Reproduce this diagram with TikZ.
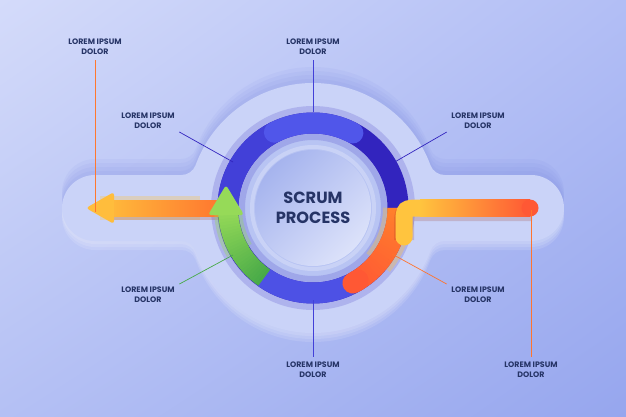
\documentclass[tikz,border=0pt]{standalone}
\usepackage{fontspec}
\usetikzlibrary{shadings}
\setmainfont{Poppins}
\definecolor{bgA}{RGB}{212,219,250}
\definecolor{bgB}{RGB}{178,190,245}
\definecolor{bgC}{RGB}{180,192,244}
\definecolor{bgD}{RGB}{150,166,238}
\definecolor{plateC}{RGB}{202,211,248}
\definecolor{shadeC}{RGB}{110,125,220}
\definecolor{discA}{RGB}{166,180,238}
\definecolor{discB}{RGB}{220,226,250}
\definecolor{ink}{RGB}{38,52,102}
\definecolor{indD}{RGB}{50,36,190}
\definecolor{indM}{RGB}{66,64,216}
\definecolor{indL}{RGB}{80,86,234}
\definecolor{redO}{RGB}{255,88,52}
\definecolor{oraO}{RGB}{255,128,44}
\definecolor{yelO}{RGB}{255,196,62}
\definecolor{grnA}{RGB}{72,170,72}
\definecolor{grnB}{RGB}{150,218,88}
\tikzset{
	lbl/.style={font=\bfseries\fontsize{7.9}{10}\selectfont,text=ink,align=center,inner sep=1pt},
	ttl/.style={font=\bfseries\fontsize{16.2}{19.5}\selectfont,text=ink,align=center},
	leader/.style={line width=0.7pt,shorten <=4pt},
	ringseg/.style={line width=21pt},
}
% outline of the pale plate, local to the circle centre
\newcommand{\plateoutline}{(-131.5,-33) -- (-218,-33) arc[start angle=270,end angle=90,radius=33]
	-- (-131.5,33) arc[start angle=270,end angle=339.94,radius=15]
	arc[start angle=159.94,end angle=20.06,radius=125]
	arc[start angle=200.06,end angle=270,radius=15] -- (218,33)
	arc[start angle=90,end angle=-90,radius=33] -- (131.5,-33)
	arc[start angle=90,end angle=159.94,radius=15]
	arc[start angle=-20.06,end angle=-159.94,radius=125]
	arc[start angle=20.06,end angle=90,radius=15] -- cycle}
\begin{document}
\begin{tikzpicture}[x=1pt,y=-1pt,>=stealth]
	\useasboundingbox (0,0) rectangle (626,417);
	\shade[upper left=bgA,upper right=bgB,lower left=bgC,lower right=bgD] (0,0) rectangle (626,417);
	\coordinate (C) at (313,208);
	% plate with soft shadow and glow
	\begin{scope}[shift={(C)}]
		\foreach \d in {4,8,12,16}
			\fill[shadeC,opacity=0.07,yshift=\d] \plateoutline;
		\foreach \d in {3,6,9}
			\fill[white,opacity=0.12,yshift=-\d] \plateoutline;
		\fill[plateC] \plateoutline;
	\end{scope}
	% inner disc
	\fill[discA!50!plateC] (C) circle (74);
	\draw[white,opacity=0.25,line width=4pt] (C) circle (61);
	\shade[top color=discA,bottom color=discB,shading angle=45] (C) circle (58);
	% ring
	\draw[indD,opacity=0.18,line width=34pt] (C) circle (85);
	\draw[ringseg,indD] (C) circle (85);
	\draw[ringseg,indM] (C) ++(178:85) arc[start angle=178,end angle=245,radius=85];
	\draw[ringseg,indL,line cap=round] (C) ++(243:85) arc[start angle=243,end angle=298,radius=85];
	\draw[ringseg,indL!90!indD,line cap=round] (C) ++(125:85) arc[start angle=125,end angle=66,radius=85];
	% orange arc and right bar
	\draw[yelO,opacity=0.35,line width=30pt] (C) ++(0:85) arc[start angle=0,end angle=40,radius=85];
	\foreach \a [evaluate=\a as \m using {(\a)*100/60}] in {0,2,...,58}
		\draw[ringseg,redO!\m!oraO] (C) ++(\a:85) arc[start angle=\a,end angle=\a+2.5,radius=85];
	\draw[ringseg,redO,line cap=round] (C) ++(58:85) arc[start angle=58,end angle=62,radius=85];
	\draw[redO!60!black,opacity=0.2,line width=20pt] (404,240) -- (404,226) .. controls (404,211) .. (420,211) -- (532,211);
	\draw[yelO,line width=17pt,line cap=round] (404,237) -- (404,224) .. controls (404,208) .. (421,208);
	\shade[left color=yelO,right color=redO] (420,199.5) rectangle (530,216.5);
	\fill[redO] (530,208) circle (8.5);
	% left arrow
	\draw[yelO,opacity=0.3,line width=24pt] (100,208) -- (200,208);
	\fill[redO!60!black,opacity=0.2] (108,203) rectangle (222,220);
	\shade[left color=yelO!85!oraO,right color=oraO!70!redO] (108,200) rectangle (224,216);
	\fill[yelO!90!oraO,rounded corners=3pt] (86,208) -- (114,192) -- (114,224) -- cycle;
	% green arrow
	\draw[grnB,opacity=0.35,line width=28pt] (C) ++(150:85) arc[start angle=150,end angle=178,radius=85];
	\foreach \a [evaluate=\a as \m using {(\a-125)*100/52}] in {125,127,...,175}
		\draw[line width=20pt,grnB!\m!grnA] (C) ++(\a:85) arc[start angle=\a,end angle=\a+2.5,radius=85];
	\fill[grnB,rounded corners=3pt] (226,185) -- (244,215) -- (208,215) -- cycle;
	% labels and leaders
	\node[lbl] (tl) at (95,47) {LOREM IPSUM\\DOLOR};
	\node[lbl] (tc) at (313,47) {LOREM IPSUM\\DOLOR};
	\node[lbl] (ul) at (148,121) {LOREM IPSUM\\DOLOR};
	\node[lbl] (ur) at (478,121) {LOREM IPSUM\\DOLOR};
	\node[lbl] (ll) at (148,295) {LOREM IPSUM\\DOLOR};
	\node[lbl] (lr) at (478,295) {LOREM IPSUM\\DOLOR};
	\node[lbl] (bc) at (313,370) {LOREM IPSUM\\DOLOR};
	\node[lbl] (br) at (531,370) {LOREM IPSUM\\DOLOR};
	\coordinate (tlEnd) at (95,212);
	\coordinate (tcEnd) at (313,112);
	\coordinate (ulEnd) at (233,162);
	\coordinate (urEnd) at (393,163);
	\coordinate (llEnd) at (233,255);
	\coordinate (lrEnd) at (392,254);
	\coordinate (bcEnd) at (313,300);
	\coordinate (brEnd) at (531,210);
	\draw[leader,oraO!80!redO] (tl.south) -- (tlEnd);
	\draw[leader,indM] (tc.south) -- (tcEnd);
	\draw[leader,indD] (ul.south east) -- (ulEnd);
	\draw[leader,indD] (ur.south west) -- (urEnd);
	\draw[leader,grnA] (ll.north east) -- (llEnd);
	\draw[leader,oraO!70!redO] (lr.north west) -- (lrEnd);
	\draw[leader,indM] (bc.north) -- (bcEnd);
	\draw[leader,oraO!70!redO] (br.north) -- (brEnd);
	\node[ttl] (title) at (C) {SCRUM\\PROCESS};
\end{tikzpicture}
\end{document}
